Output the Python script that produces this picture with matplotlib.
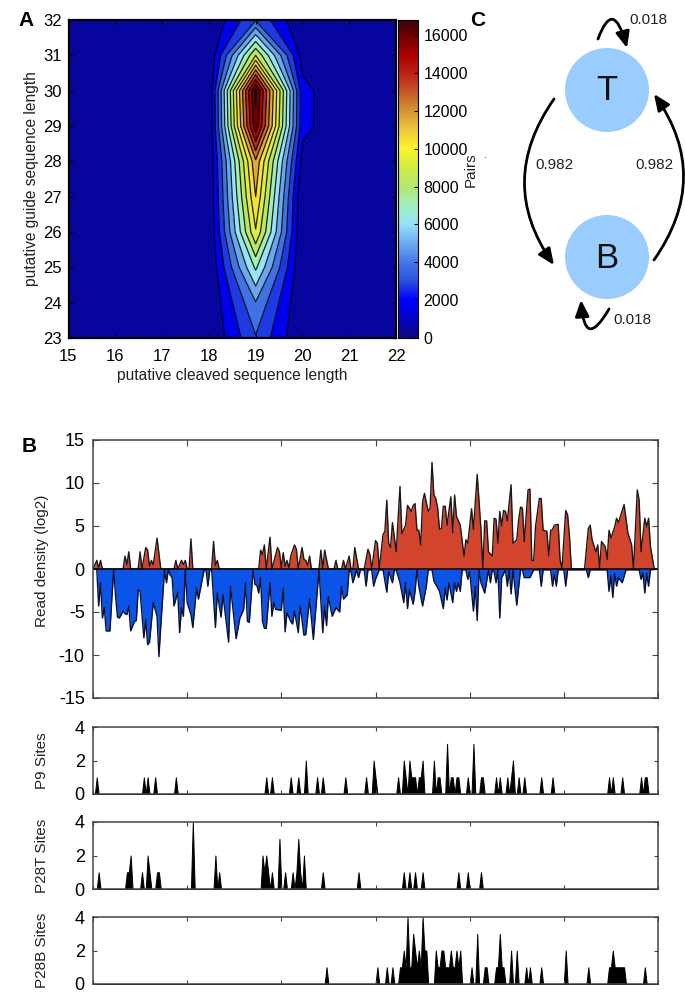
import numpy as np
import matplotlib
matplotlib.use('Agg')
import matplotlib.pyplot as plt
from matplotlib.cm import ScalarMappable
from matplotlib.colors import Normalize, LinearSegmentedColormap
from matplotlib.patches import Circle, FancyArrowPatch

plt.rcParams['font.family'] = ['Liberation Sans', 'DejaVu Sans']
plt.rcParams['axes.unicode_minus'] = False

# panel A
cleaved_len = [15, 16, 17, 18, 19, 20, 21, 22]
guide_len = [23, 24, 25, 26, 27, 28, 29, 30, 31, 32]
pairs_19 = [3200, 4350, 6800, 9800, 11000, 11900, 16200, 16800, 8800, 3200]
pairs_20 = [0, 0, 0, 0, 0, 700, 1450, 1450, 600, 0]
pair_levels = [0, 1100, 2200, 3300, 4400, 5500, 6600, 7700, 8800, 9900, 11000,
               12100, 13200, 14300, 15400, 16500, 16800]
cbar_ticks = [0, 2000, 4000, 6000, 8000, 10000, 12000, 14000, 16000]
pair_max = 16800
# colour bar as printed, a washed out jet
cmap_values = [0, 1500, 2000, 3000, 4000, 5000, 6000, 7000, 8000, 9000, 10000,
               11000, 12000, 13000, 14000, 15000, 16000, 16800]
cmap_colors = ['#0a0a78', '#0000e6', '#0000ff', '#2850dc', '#4678e6', '#6eaaf0', '#96e1fa', '#a0f0be',
               '#b4e66e', '#d2eb46', '#faf528', '#f0c83c', '#d29632', '#c35a28', '#be1e14', '#aa0000',
               '#6e0000', '#3c000a']

# panel B, read density
red_bins = [0, 2, 3, 4, 5, 16, 17, 18, 19, 20, 24, 25, 26, 28, 29, 30, 31, 32, 34, 36, 43, 44, 45, 47, 48, 49, 50, 51,
            52, 53, 63, 64, 65, 66, 67, 88, 89, 90, 91, 92, 94, 95, 98, 99, 100, 101, 102, 103, 104, 105, 107, 108,
            109, 111, 112, 113, 114, 115, 116, 120, 121, 122, 123, 125, 128, 129, 130, 132, 133, 134, 136, 137, 138,
            139, 141, 144, 146, 147, 148, 150, 151, 152,
            154, 155, 156, 157, 158, 159, 161, 163, 164, 166, 167, 169, 170, 171, 172, 173, 174, 175, 176, 178, 179,
            180, 181, 182, 183, 184, 185, 186, 187, 188, 190, 191, 192, 193, 195, 197, 198, 199, 201, 202, 204, 206,
            207, 208, 209, 210, 212, 213, 214, 215, 216, 217, 218, 219, 220, 222, 223, 225, 226, 227, 228, 229, 231,
            232, 233, 234, 235, 237, 238, 239, 241, 242, 243, 244, 245, 247, 248, 249, 251, 252, 253, 254, 261, 263,
            264, 265, 267, 268, 269, 270, 272, 273, 274, 275, 277, 278, 279, 282, 284, 286, 287, 289, 290, 291, 293,
            294, 295, 296, 298, 300]
red_vals = [0, 1.0, 0.1, 1.0, 0, 0, 1.5, 0.5, 2.0, 0, 0, 2.0, 0, 2.5, 2.2, 0.3, 1.0, 0.5, 3.6, 0, 0, 1, 0, 1, 0.5, 1, 0, 0,
            3.5, 0, 0, 3.2, 0.4, 1, 0, 0, 2.2, 1.7, 2.8, 0, 3.7, 0, 2.5, 2.0, 0.1, 1.9, 0.3, 1, 0.1, 1.5, 2.8, 2.3,
            0, 2.5, 1.1, 1, 0.4, 1.5, 0, 0, 2.2, 0, 2.2, 0, 0, 1, 0, 0, 1, 0, 1.5, 0, 0,
            2.5, 0, 0, 2.3, 1.7, 0, 3.3, 3.0, 0,
            4.0, 4.4, 8.0, 3.0, 2.5, 5.4, 2.0, 9.6, 4.1, 5.1, 7.4, 6.7, 7.4, 7.6, 4.5, 4.5, 2.8, 7.8, 8.8, 6.7, 7.1,
            12.4, 8.6, 8.2, 7.1, 4.6, 4.7, 7.3, 7.3, 5.1, 8.4, 4.2, 8.6, 6.1, 5.1, 1.5, 3.4, 3.0, 7.0, 4.6, 11.0, 4.6,
            0, 5.6, 5.6, 2.0, 1.5, 5.9, 5.8, 3.0, 6.7, 5.0, 6.8, 6.7, 5.6, 9.8, 3.0, 3.4, 5.7, 7.2, 7.1, 3.2, 9.2,
            9.3, 1.0, 1.0, 5.0, 8.2, 8.2, 4.5, 4.4, 1.5, 4.5, 4.6, 5.1, 5.2, 1.1, 0, 6.8, 6.3, 3.8, 0, 0, 4.7,
            5.1, 3.4, 2.0, 2.8, 0.1, 3.2, 2.6, 1.1, 4.5, 3.6, 4.9, 5.9, 5.4, 7.5, 4.2, 2.8, 0, 9.2, 8.0, 2.0, 5.9,
            4.9, 5.9, 2.6, 0, 0]

blue_bins = [0, 2, 3, 4, 5, 6, 7, 9, 10, 11, 12, 13, 14, 16, 17, 18, 19, 20, 22, 23, 24, 25, 27, 28, 29, 30, 32, 34, 35,
             36, 38, 39, 40, 41, 42, 43, 45, 46, 47, 48, 49, 50, 52, 53, 55, 56, 58, 59, 60, 61, 62, 63, 65, 66, 68,
             69, 72, 73, 76, 78, 80, 81, 82, 83, 85, 86, 87, 88, 89, 90, 91, 92, 94, 95, 96, 97, 100, 101, 102, 103,
             105, 106, 107, 109, 110, 112, 113, 115, 117, 120, 122, 123, 124, 125, 127, 129, 131, 132, 133, 135, 136,
             137, 138, 140, 141, 142, 144, 145, 146, 148, 149, 150, 152,
             154, 156, 157, 159, 160, 161, 163, 165, 166, 167, 168, 170, 171, 172, 173, 175, 177, 178, 180, 181, 184,
             186, 187, 188, 189, 191, 192, 193, 194, 195, 196, 198, 199, 200, 202, 203, 204, 205, 206, 208, 210, 211,
             212, 213, 214, 215, 216, 217, 219, 220, 221, 222, 223, 225, 227, 228, 229, 232, 234, 235, 237, 238, 239,
             243, 244, 245, 246, 247, 250, 251, 252, 262, 263, 264, 273, 274, 275, 276, 277, 278, 279, 281, 283, 290,
             291, 292, 293, 294, 295, 296, 300]
blue_vals = [0, 0, -4.3, -1.6, -5.7, -4.5, -7.2, -7.2, -3.5, -0.1, -3.2, -5.6, -5.7, -4.9, -5.2, -5.3, -4.3, -7.2, -6.1,
             -6.0, -2.4, -2.6, -8.0, -5.9, -8.8, -8.5, -3.9, -5.5, -10.2,
             -6.6, -0.1, -1.6, -0.1, -0.7, -1.0, -4.3, -2.7, -7.4, -4.5, -5.5, -0.1, -3.9, -5.3, -6.8, -2.2, -3.5, -1.2,
             -0.1, -0.1, -2.0, -0.1, -0.1, -6.8, -2.8, -5.6,
             -3.0, -8.5, -2.0, -8.1, -5.7, -4.7, -1.6, -6.1, -6.2, -0.1, -1.8, -1.9, -2.8, -1.0, -6.1, -6.9, -6.9, -1.6,
             -5.5, -3.9, -4.7, -4.8, -2.2, -7.3, -5.1,
             -6.1, -6.4, -4.9, -7.4, -4.3, -7.7, -7.6, -3.5, -8.2, -0.1, -7.4, -4.3, -6.6, -3.2, -5.5, -4.5, -5.0, -2.0,
             -3.5, -3.0, -0.1,
             -0.3, -1.6, -0.1, -1.0, -0.1, -0.1, -2.0, -0.1, -0.1, -2.0, -1.2, -0.1,
             -0.1, -2.7, -0.3, -1.6, -0.1, -0.1, -1.6, -3.9, -1.6, -4.6, -2.4, -4.1, -2.6, -0.1, -2.0, -4.3, -2.0, -0.1,
             -0.1, -1.4, -2.6,
             -4.6, -2.2, -3.6, -1.6, -3.9, -1.6, -2.6, -1.6, -2.6, -0.1, -0.1, -1.2, -0.3, -4.9, -2.0, -6.0, -0.1, -1.6,
             -2.8, -0.1, -1.6,
             -0.1, -0.3, -1.6, -0.1, -5.7, -1.0, -0.1, -2.0, -0.1, -2.9, -0.1, -4.2, -0.1, -0.1, -1.0, -1.0, -0.1, -0.1,
             -0.1, -2.0, -0.1,
             -0.1, -2.0, -0.6, -2.0, -0.1, -0.1, -2.0, -0.1, -0.1, -1.0, -0.1, -0.1, -2.6, -0.8, -3.3, -0.5, -2.0, -1.0,
             -1.6, -0.1, -0.1,
             -1.2, -0.5, -2.8, -0.5, -2.0, -0.1, 0]

# site counts per bin
p9_bins = [2, 27, 29, 33, 44, 92, 95, 105, 109, 113, 119, 122, 134, 145, 149, 150, 162, 165, 166, 168, 169, 170, 171, 173,
           174, 175, 181, 183, 184, 188, 190, 191, 193, 194, 199, 202, 206, 207, 214, 216, 220, 222, 223, 226, 229,
           238, 244, 274, 276, 281, 291, 293, 294]
p9_counts = [1, 1, 1, 1, 1, 1, 1, 1, 1, 2, 1, 1, 1, 1, 2, 1, 1, 2, 1, 2, 1, 1, 1, 1,
             1, 2, 2, 1, 1, 3, 1, 1, 1, 1, 1, 3, 1, 1, 1, 1, 1, 1, 2, 1, 1,
             1, 1, 1, 1, 1, 1, 1, 1]
p28t_bins = [3, 18, 19, 20, 26, 29, 30, 34, 35, 53, 65, 67, 90, 91, 92, 93, 95, 99, 102, 106, 108, 109, 110, 112, 122, 141,
             165, 168, 171, 175, 194, 199, 206]
p28t_counts = [1, 1, 1, 2, 1, 2, 1, 1, 1, 4, 2, 1, 2, 1, 2, 1, 1, 3, 1, 1, 1, 3, 1, 2, 1, 1,
               1, 1, 1, 1, 1, 1, 1]
p28b_bins = [124, 151, 156, 159, 163, 164, 165, 166, 167, 168, 169, 170, 171, 172, 173, 174, 175, 176, 177,
             182, 183, 184, 185, 186, 187, 188, 189, 190, 191, 192, 193, 194, 195, 201, 204, 208, 209, 214, 215, 216,
             217, 218, 222, 225, 230, 232, 238, 251, 263, 274, 275, 276, 277, 278, 279, 280, 281, 282, 293]
p28b_counts = [1, 1, 1, 1, 1, 1, 2, 1, 4, 1, 1, 3, 2, 1, 2, 1, 4, 2, 2,
               2, 1, 1, 2, 2, 1, 1, 1, 2, 1, 1, 2, 1, 2, 1, 3, 1, 1, 1, 1, 3,
               1, 1, 2, 2, 1, 1, 1, 2, 1, 1, 1, 2, 1, 1, 1, 1, 1, 1, 1]

W, H = 685, 1007
fig = plt.figure(figsize=(W / 100, H / 100), dpi=100)


def add_ax(left, top, right, bottom):
    return fig.add_axes([left / W, 1 - bottom / H, (right - left) / W, (bottom - top) / H])


# A: contour map
z = np.zeros((len(guide_len), len(cleaved_len)))
z[:, cleaved_len.index(19)] = pairs_19
z[:, cleaved_len.index(20)] = pairs_20
cmap = LinearSegmentedColormap.from_list('printed_jet', [(v / pair_max, c) for v, c in zip(cmap_values, cmap_colors)],
                                         N=512)
norm = Normalize(0, pair_max)
ax_a = add_ax(68.5, 20, 396, 338)
ax_a.contourf(cleaved_len, guide_len, z, levels=pair_levels, cmap=cmap, norm=norm)
ax_a.contour(cleaved_len, guide_len, z, levels=pair_levels[1:-1], colors='k', linewidths=0.9, alpha=0.85)
ax_a.set_xticks(cleaved_len)
ax_a.set_yticks(guide_len)
ax_a.tick_params(direction='in', top=True, right=True, length=3, width=0.8, labelsize=12, color='k')
ax_a.tick_params(axis='x', pad=8)
ax_a.tick_params(axis='y', pad=5)
ax_a.set_xlabel('putative cleaved sequence length', fontsize=11.2, labelpad=3, color='#222222')
ax_a.set_ylabel('putative guide sequence length', fontsize=11.2, labelpad=3, color='#222222')
for s in ax_a.spines.values():
    s.set_linewidth(1.6)

cax = add_ax(398, 20, 418, 338)
cb = fig.colorbar(ScalarMappable(norm=norm, cmap=cmap), cax=cax)
cb.set_ticks(cbar_ticks)
cb.ax.tick_params(direction='in', length=3, width=0.8, labelsize=11.5, pad=4)
cb.outline.set_linewidth(0.8)
fig.text(471 / W, 1 - 170 / H, 'Pairs', rotation=90, fontsize=11, ha='center', va='center', color='#222222')
fig.text(484 / W, 1 - 155 / H, '.', fontsize=7, ha='center', va='center')

# B: density
x_ticks = [0, 50, 100, 150, 200, 250, 300]
ax_b = add_ax(93, 440, 658, 698)
ax_b.fill_between(red_bins, 0, red_vals, color='#d2452c', lw=0)
ax_b.fill_between(blue_bins, 0, blue_vals, color='#0a55e8', lw=0)
ax_b.plot(red_bins, red_vals, color='#1a1a1a', lw=1.0)
ax_b.plot(blue_bins, blue_vals, color='#0a1030', lw=1.0)
ax_b.axhline(0, color='k', lw=1.1)
ax_b.set_xlim(0, 300)
ax_b.set_ylim(-15, 15)
ax_b.set_yticks([-15, -10, -5, 0, 5, 10, 15])
ax_b.set_xticks(x_ticks)
ax_b.set_xticklabels([])
ax_b.tick_params(direction='in', top=True, right=True, length=4, width=0.8, labelsize=13, pad=6, color='#444444')
fig.text(42 / W, 1 - 561 / H, 'Read density (log2)', rotation=90, fontsize=11, ha='center', va='center',
         color='#222222')
for s in ax_b.spines.values():
    s.set_color('#444444')
    s.set_linewidth(1.1)

# sites
site_panels = [(727, 794, p9_bins, p9_counts, 'P9 Sites'),
               (822, 889, p28t_bins, p28t_counts, 'P28T Sites'),
               (917, 984, p28b_bins, p28b_counts, 'P28B Sites')]
all_bins = np.arange(0, 301)
for top, bottom, bins, counts, name in site_panels:
    ax = add_ax(93, top, 658, bottom)
    y = np.zeros(len(all_bins))
    y[bins] = counts
    ax.fill_between(all_bins, 0, y, color='k', lw=0.7)
    ax.set_xlim(0, 300)
    ax.set_ylim(0, 4)
    ax.set_yticks([0, 2, 4])
    ax.set_xticks(x_ticks)
    ax.set_xticklabels([])
    ax.tick_params(direction='in', top=True, right=True, length=3, width=0.8, labelsize=13, pad=6, color='#444444')
    for s in ax.spines.values():
        s.set_color('#444444')
        s.set_linewidth(1.1)
    fig.text(42 / W, 1 - (top + bottom) / 2 / H, name, rotation=90, fontsize=11, ha='center', va='center',
             color='#222222')

# C: state diagram, drawn in pixel space
ax_c = add_ax(460, 0, 685, 340)
ax_c.set_xlim(460, 685)
ax_c.set_ylim(340, 0)
ax_c.axis('off')
ax_c.patch.set_alpha(0)
for cy, name in [(90, 'T'), (257, 'B')]:
    ax_c.add_patch(Circle((607, cy), 42, fc='#99ccff', ec='none'))
    ax_c.text(607, cy + 1, name, fontsize=25, ha='center', va='center', color='#111111')

arrows = [((554, 99), (554, 265), 'arc3,rad=0.35'), ((654, 260), (654, 94), 'arc3,rad=0.35'),
          ((598, 39), (627, 48), 'angle3,angleA=70,angleB=105'), ((609, 309), (581, 300), 'angle3,angleA=60,angleB=94')]
for start, end, conn in arrows:
    ax_c.add_patch(FancyArrowPatch(start, end, connectionstyle=conn,
                                   arrowstyle='-|>,head_length=0.65,head_width=0.28',
                                   mutation_scale=15, lw=2, color='k', shrinkA=0, shrinkB=0))
for tx, ty, label in [(648, 20, '0.018'), (554, 165, '0.982'), (654, 165, '0.982'), (632, 320, '0.018')]:
    ax_c.text(tx, ty, label, fontsize=11, ha='center', va='center', color='#222222')

# panel letters
fig.text(26 / W, 1 - 20 / H, 'A', fontsize=15, fontweight='bold', ha='center', va='center')
fig.text(29 / W, 1 - 447 / H, 'B', fontsize=15, fontweight='bold', ha='center', va='center')
fig.text(478 / W, 1 - 20 / H, 'C', fontsize=15, fontweight='bold', ha='center', va='center')

fig.savefig('out.png', dpi=100)
plt.close(fig)
